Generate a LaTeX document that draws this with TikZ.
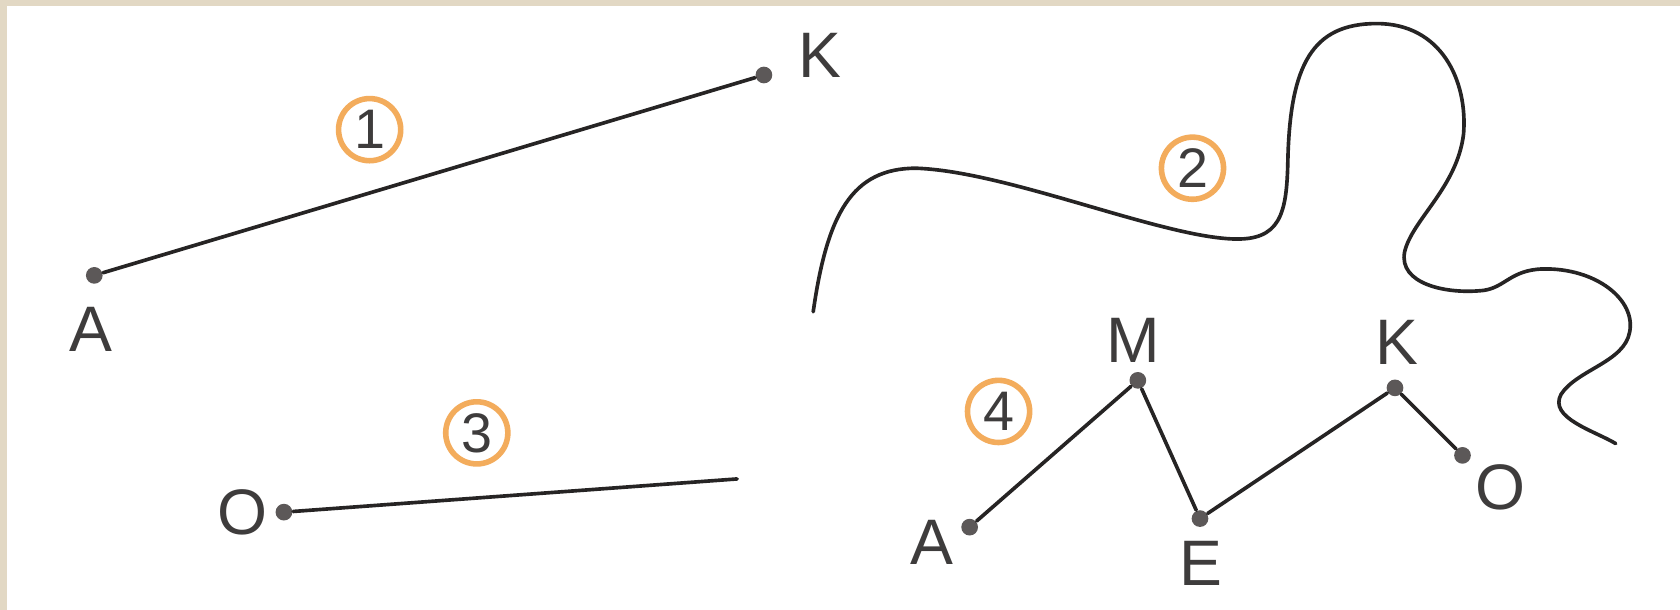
\documentclass[tikz,border=0pt]{standalone}
\usepackage{fontspec}
\setmainfont{Liberation Sans}
\definecolor{linec}{RGB}{38,36,36}
\definecolor{dotc}{RGB}{92,88,88}
\definecolor{textc}{RGB}{62,60,60}
\definecolor{orng}{RGB}{243,172,92}
\definecolor{paper}{RGB}{226,216,196}
\begin{document}
\begin{tikzpicture}[x=0.25pt,y=-0.25pt,
  seg/.style={line width=0.85pt, draw=linec, line cap=round},
  pt/.style={circle, fill=dotc, inner sep=0pt, minimum size=3.9pt},
  lbl/.style={text=textc, font=\fontsize{15}{15}\selectfont, inner sep=0pt},
  num/.style={circle, draw=orng, line width=1.3pt, minimum size=14.5pt, inner sep=0pt, text=textc, font=\fontsize{13}{13}\selectfont}]
\useasboundingbox (0,0) rectangle (1568,569);
\fill[paper] (0,0) rectangle (1568,569);
\fill[white] (6.5,5.6) rectangle (1568,569);

% figure 1
\node[pt] (a1) at (88,257) {};
\node[pt] (k1) at (713,70) {};
\draw[seg] (a1) -- (k1);
\node[lbl] (la1) at (85,307) {A};
\node[lbl] (lk1) at (765,52) {K};
\node[num] (n1) at (345,121) {1};

% figure 2
\node[num] (n2) at (1113,157) {2};
\draw[line width=0.85pt, draw=linec, line cap=round]
 (759,291) .. controls (772,200) and (795,157) .. (855,157)
 .. controls (940,160) and (1080,220) .. (1150,223)
 .. controls (1195,225) and (1201,200) .. (1202,150)
 .. controls (1204,60) and (1225,22) .. (1285,22)
 .. controls (1345,22) and (1370,75) .. (1366,125)
 .. controls (1360,175) and (1318,205) .. (1311,235)
 .. controls (1305,265) and (1350,275) .. (1385,271)
 .. controls (1405,268) and (1410,252) .. (1440,251)
 .. controls (1490,250) and (1527,280) .. (1521,310)
 .. controls (1516,338) and (1472,345) .. (1457,368)
 .. controls (1445,390) and (1488,402) .. (1508,414);

% figure 3
\node[pt] (o3) at (265,478) {};
\coordinate (e3) at (688,447);
\draw[seg] (o3) -- (e3);
\node[lbl] (lo3) at (226,478) {O};
\node[num] (n3) at (445,404) {3};

% figure 4
\node[pt] (a4) at (905,492) {};
\node[pt] (m4) at (1062,355) {};
\node[pt] (e4) at (1120,484) {};
\node[pt] (k4) at (1302,362) {};
\node[pt] (o4) at (1365,425) {};
\draw[seg] (a4) -- (m4) -- (e4) -- (k4) -- (o4);
\node[lbl] (la4) at (870,506) {A};
\node[lbl] (lm4) at (1058,318) {M};
\node[lbl] (le4) at (1121,526) {E};
\node[lbl] (lk4) at (1304,320) {K};
\node[lbl] (lo4) at (1400,455) {O};
\node[num] (n4) at (932,384) {4};
\end{tikzpicture}
\end{document}
